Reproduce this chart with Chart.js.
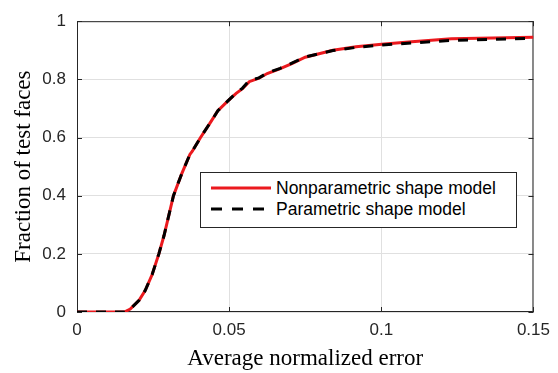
<!DOCTYPE html>
<html>
<head>
<meta charset="utf-8">
<script src="https://cdn.jsdelivr.net/npm/chart.js@4"></script>
<style>
  body { margin: 0; background: #fff; }
  #wrap { position: relative; width: 558px; height: 373px; }
  #legend {
    position: absolute; left: 200px; top: 172px; width: 315px; height: 54px;
    border: 1px solid #262626; background: #fff;
    font-family: "Liberation Sans", Arial, sans-serif; font-size: 17.5px; color: #000;
  }
  .row { position: absolute; left: 0; height: 20px; display: flex; align-items: center; }
  .row svg { margin-left: 10px; margin-right: 5px; }
</style>
</head>
<body>
<div id="wrap">
  <canvas id="grafico" width="558" height="373"></canvas>
  <div id="legend">
    <div class="row" style="top:5px">
      <svg width="60" height="6"><line x1="0" y1="3" x2="60" y2="3" stroke="rgb(235,25,30)" stroke-width="3"/></svg>
      <span>Nonparametric shape model</span>
    </div>
    <div class="row" style="top:26px">
      <svg width="60" height="6"><line x1="0" y1="3" x2="60" y2="3" stroke="#000" stroke-width="3" stroke-dasharray="11,10"/></svg>
      <span>Parametric shape model</span>
    </div>
  </div>
</div>
<script>
// valores
const erros = [0, 0.0155, 0.0175, 0.0204, 0.0224, 0.0247, 0.0269, 0.0286, 0.0317, 0.0344, 0.0371, 0.0379,
  0.0406, 0.0436, 0.0463, 0.0496, 0.0523, 0.0544, 0.0566, 0.0598, 0.0625, 0.0668, 0.0706, 0.075,
  0.0841, 0.0917, 0.1001, 0.11, 0.123, 0.15];
const naoParametrico = [0, 0, 0.01, 0.04, 0.074, 0.129, 0.2, 0.263, 0.4, 0.475, 0.542, 0.553,
  0.6, 0.648, 0.692, 0.726, 0.752, 0.768, 0.792, 0.804, 0.82, 0.837, 0.854, 0.876,
  0.9, 0.912, 0.921, 0.929, 0.94, 0.945];
const parametrico = [0, 0, 0.01, 0.04, 0.074, 0.129, 0.2, 0.263, 0.4, 0.475, 0.542, 0.553,
  0.6, 0.648, 0.692, 0.726, 0.753, 0.77, 0.796, 0.805, 0.822, 0.838, 0.856, 0.877,
  0.899, 0.91, 0.918, 0.925, 0.934, 0.941];
const ticksX = [0, 0.05, 0.1, 0.15];
const ticksY = [0, 0.2, 0.4, 0.6, 0.8, 1];

const eixo = '#262626';
const fonteTicks = { family: '"Liberation Sans", Arial, sans-serif', size: 17 };
const fonteTitulo = { family: '"Liberation Serif", "Times New Roman", serif', size: 23, lineHeight: 1.2 };

// caixa estilo matlab com ticks para dentro
const caixa = {
  id: 'caixa',
  beforeDatasetsDraw(chart) {
    const { ctx, chartArea: a, scales: { x, y } } = chart;
    ctx.save();
    ctx.strokeStyle = eixo;
    ctx.lineWidth = 1;
    ctx.beginPath();
    ctx.rect(a.left + 0.5, a.top + 0.5, a.right - a.left - 1, a.bottom - a.top - 1);
    const t = 5;
    ticksX.forEach(v => {
      const px = Math.round(x.getPixelForValue(v)) + 0.5;
      ctx.moveTo(px, a.bottom); ctx.lineTo(px, a.bottom - t);
      ctx.moveTo(px, a.top); ctx.lineTo(px, a.top + t);
    });
    ticksY.forEach(v => {
      const py = Math.round(y.getPixelForValue(v)) + 0.5;
      ctx.moveTo(a.left, py); ctx.lineTo(a.left + t, py);
      ctx.moveTo(a.right, py); ctx.lineTo(a.right - t, py);
    });
    ctx.stroke();
    ctx.restore();
  }
};

const ctx = document.getElementById('grafico').getContext('2d');
new Chart(ctx, {
  type: 'line',
  data: {
    datasets: [{
      label: 'Nonparametric shape model',
      data: erros.map((e, i) => ({ x: e, y: naoParametrico[i] })),
      borderColor: 'rgb(235,25,30)',
      borderWidth: 3,
      pointRadius: 0,
      tension: 0,
      order: 2
    }, {
      label: 'Parametric shape model',
      data: erros.map((e, i) => ({ x: e, y: parametrico[i] })),
      borderColor: '#000',
      borderWidth: 3,
      borderDash: [10, 9],
      pointRadius: 0,
      tension: 0,
      order: 1
    }]
  },
  options: {
    responsive: false,
    animation: false,
    layout: { padding: { top: 13, right: 18, left: 0, bottom: 0 } },
    plugins: { legend: { display: false }, tooltip: { enabled: false } },
    scales: {
      x: {
        type: 'linear', min: 0, max: 0.15,
        afterBuildTicks: s => { s.ticks = ticksX.map(v => ({ value: v })); },
        afterFit: s => { s.height = 61; },
        ticks: { color: eixo, font: fonteTicks, padding: 8, maxRotation: 0, callback: v => String(v) },
        grid: { color: '#e0e0e0', drawTicks: false },
        border: { display: false },
        title: { display: true, text: 'Average normalized error', color: '#000', font: fonteTitulo, padding: { top: 0, bottom: 0 } }
      },
      y: {
        type: 'linear', min: 0, max: 1,
        afterBuildTicks: s => { s.ticks = ticksY.map(v => ({ value: v })); },
        afterFit: s => { s.width = 77; },
        ticks: { color: eixo, font: fonteTicks, padding: 11, callback: v => String(v) },
        grid: { color: '#e0e0e0', drawTicks: false },
        border: { display: false },
        title: { display: true, text: 'Fraction of test faces', color: '#000', font: fonteTitulo, padding: { top: 10, bottom: 0 } }
      }
    }
  },
  plugins: [caixa]
});
</script>
</body>
</html>
